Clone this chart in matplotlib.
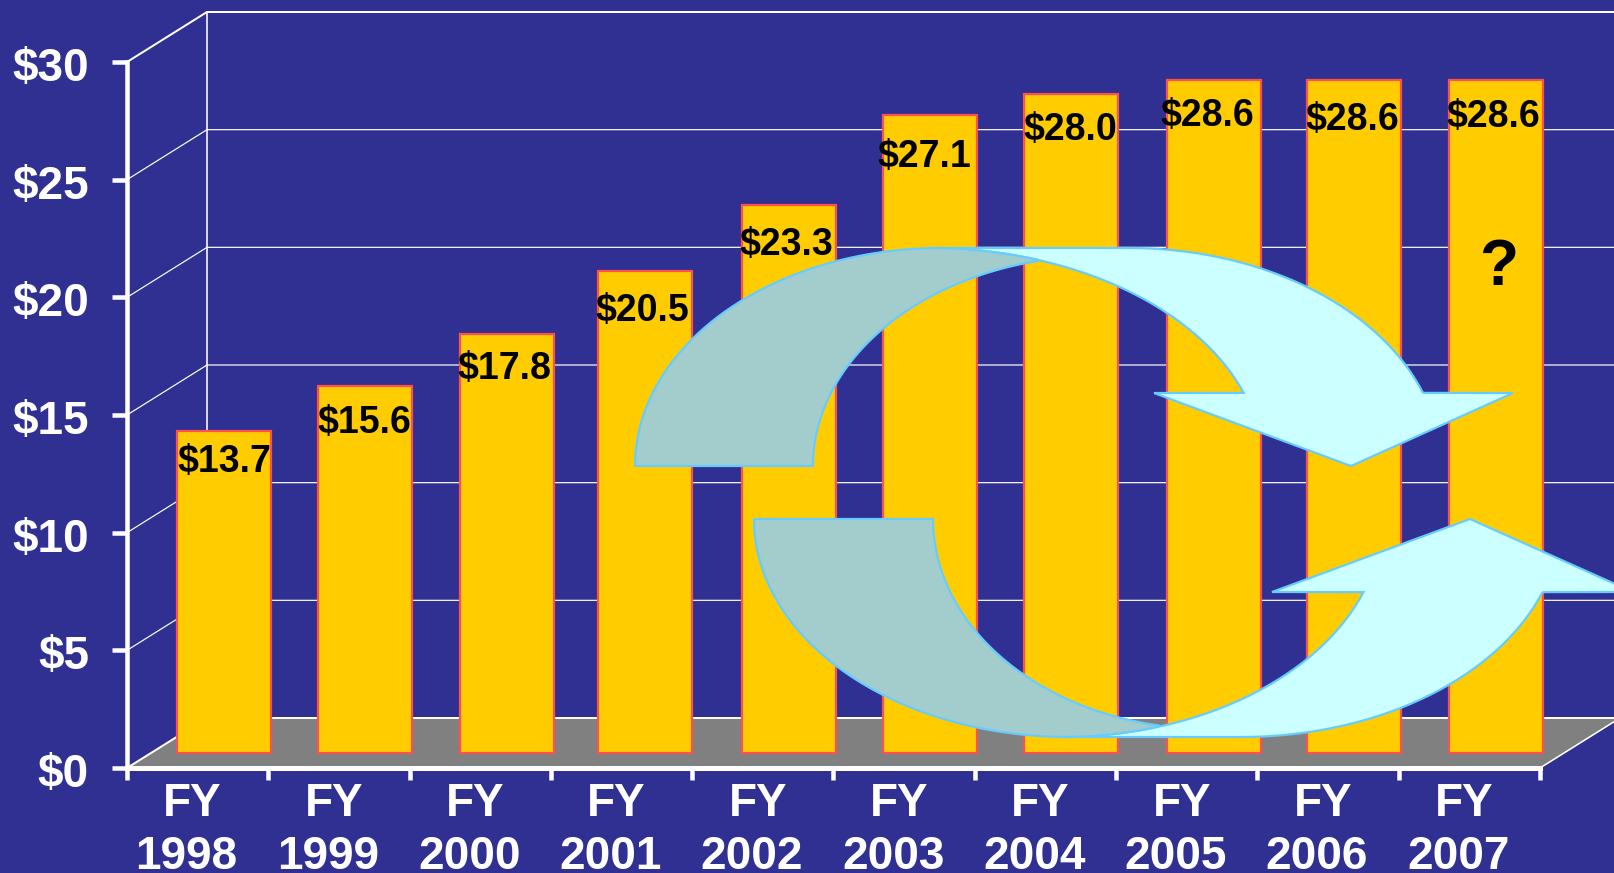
import numpy as np
import matplotlib
matplotlib.use("Agg")
import matplotlib.pyplot as plt
from matplotlib.patches import PathPatch
from matplotlib.path import Path
from matplotlib.transforms import Affine2D, ScaledTranslation

WIDTH = 1615
HEIGHT = 873
DPI = 100

YEARS = ["1998", "1999", "2000", "2001", "2002", "2003", "2004", "2005", "2006", "2007"]
FUNDING = [13.7, 15.6, 17.8, 20.5, 23.3, 27.1, 28.0, 28.6, 28.6, 28.6]
Y_TICKS = [0, 5, 10, 15, 20, 25, 30]

# hand placed labels, pixels from the bar top and from the bar centre
LABEL_DROP = [31, 37, 35, 40, 40, 42, 36, 36, 40, 37]
LABEL_NUDGE = [1, -1, -2, -5, -3, -6, -1, -5, -2, -2]
# the 2001 bar sits a little left of the regular spacing
BAR_NUDGE = [0, 0, 1, -3, 0, 0, 0, 1, 0, 1]

BACKGROUND = "#2F3091"
BAR_COLOR = "#FFCC00"
BAR_EDGE = "#FF5050"
FLOOR_COLOR = "#808080"
ARROW_DARK = "#A3CCCC"
ARROW_LIGHT = "#CCFFFF"
ARROW_EDGE = "#66CCFF"

# pixel sizes of the fake 3d box, front plane is the axes
PX_X = 141.3
PX_Y = 23.53
DEPTH_X = 80 / PX_X
DEPTH_Y = 50 / PX_Y
BAR_SHIFT_X = 26 / PX_X
BAR_SHIFT_Y = 15 / PX_Y
BAR_WIDTH = 94 / PX_X

plt.rcParams["font.family"] = ["Liberation Sans", "DejaVu Sans"]
plt.rcParams["font.weight"] = "bold"


def px(points):
    return points * 72 / DPI


def arc(cx, cy, rx, ry, start, end, up=True):
    t = np.radians(np.linspace(start, end, 60))
    sign = -1 if up else 1
    return np.column_stack([cx + rx * np.cos(t), cy + sign * ry * np.sin(t)])


def draw_shape(ax, parts, color, zorder):
    points = np.vstack(parts)
    points = np.vstack([points, points[:1]])
    to_screen = Affine2D().scale(1, -1).translate(0, HEIGHT)
    ax.add_patch(PathPatch(Path(points), facecolor=color, edgecolor=ARROW_EDGE,
                           lw=px(2.2), joinstyle="miter", transform=to_screen,
                           clip_on=False, zorder=zorder))


def draw_arrows(ax):
    # top arrow
    draw_shape(ax, [arc(1129, 466, 312, 218, 19.6, 90),
                    arc(929, 466, 334, 218, 90, 19.6),
                    [[1154, 393], [1351, 466], [1513, 393]]], ARROW_LIGHT, 5)
    draw_shape(ax, [arc(941, 466, 306, 218, 180, 90),
                    arc(929, 466, 334, 218, 88, 71),
                    arc(1100, 466, 287, 210, 102.6, 180)], ARROW_DARK, 5.1)
    # bottom arrow
    draw_shape(ax, [arc(1241, 519, 320, 218, 19.6, 90, up=False),
                    arc(1061, 519, 321, 218, 90, 19.6, up=False),
                    [[1272, 592], [1470, 519], [1633, 592]]], ARROW_LIGHT, 5)
    draw_shape(ax, [arc(1069, 519, 315, 218, 180, 90, up=False),
                    arc(1061, 519, 321, 218, 89, 72.6, up=False),
                    arc(1209, 519, 276, 210, 100.6, 180, up=False)], ARROW_DARK, 5.1)


def draw_box(ax):
    left, right = -0.5, len(YEARS) - 0.5
    ax.fill([left, right, right + DEPTH_X, left + DEPTH_X], [0, 0, DEPTH_Y, DEPTH_Y],
            color=FLOOR_COLOR, lw=0, zorder=1.5, clip_on=False)
    ax.plot([left + DEPTH_X, left + DEPTH_X], [DEPTH_Y, Y_TICKS[-1] + DEPTH_Y],
            color="white", lw=px(1.6), zorder=1, clip_on=False)
    ax.plot([right, right + DEPTH_X], [0, DEPTH_Y],
            color="white", lw=px(1.6), zorder=1.6, clip_on=False)
    for tick in Y_TICKS:
        width = 1.2
        if tick == 0 or tick == Y_TICKS[-1]:
            width = 2
        ax.plot([left, left + DEPTH_X, right + DEPTH_X],
                [tick, tick + DEPTH_Y, tick + DEPTH_Y],
                color="white", lw=px(width), zorder=1.6 if tick == 0 else 1, clip_on=False)


def draw_bars(ax):
    regular = np.arange(len(YEARS)) + BAR_SHIFT_X
    x_pos = regular + np.array(BAR_NUDGE) / PX_X
    ax.bar(x_pos, FUNDING, BAR_WIDTH, bottom=BAR_SHIFT_Y, color=BAR_COLOR,
           edgecolor=BAR_EDGE, lw=px(2.2), zorder=3, clip_on=False)
    for i, value in enumerate(FUNDING):
        ax.annotate("${:.1f}".format(value), (regular[i], value + BAR_SHIFT_Y),
                    xytext=(px(LABEL_NUDGE[i]), -px(LABEL_DROP[i])),
                    textcoords="offset points", ha="center", va="center",
                    fontsize=27, color="black", zorder=6)
    ax.annotate("?", (regular[-1], 21.24), xytext=(px(3), 0), textcoords="offset points",
                ha="center", va="center", fontsize=46, color="black", zorder=6)


def draw_axes(ax):
    ax.set_xlim(-0.5, len(YEARS) - 0.5)
    ax.set_ylim(0, Y_TICKS[-1])
    ax.patch.set_visible(False)
    for side in ["top", "right"]:
        ax.spines[side].set_visible(False)
    ax.spines["left"].set(color="white", lw=px(4.5), zorder=4)
    ax.spines["bottom"].set(color="white", lw=px(5), zorder=4)

    ax.set_yticks(Y_TICKS)
    ax.set_yticklabels(["${}".format(t) for t in Y_TICKS])
    ax.tick_params(axis="y", colors="white", length=px(15), width=px(4.5),
                   pad=px(23), labelsize=33)
    shift = ScaledTranslation(0, -px(2) / 72, ax.figure.dpi_scale_trans)
    for label in ax.get_yticklabels():
        label.set_transform(label.get_transform() + shift)

    ax.set_xticks(np.arange(len(YEARS) + 1) - 0.5)
    ax.set_xticklabels([])
    ax.tick_params(axis="x", colors="white", length=px(12), width=px(4.5))

    for i, year in enumerate(YEARS):
        ax.annotate("FY", (i, 0), xytext=(-px(5), -px(36)), textcoords="offset points",
                    ha="center", va="center", fontsize=33, color="white",
                    annotation_clip=False)
        ax.annotate(year, (i, 0), xytext=(-px(11), -px(89)), textcoords="offset points",
                    ha="center", va="center", fontsize=33, color="white",
                    annotation_clip=False)


def main():
    fig = plt.figure(figsize=(WIDTH / DPI, HEIGHT / DPI), dpi=DPI, facecolor=BACKGROUND)
    ax = fig.add_axes([127 / WIDTH, 105 / HEIGHT, 1413 / WIDTH, 706 / HEIGHT])
    draw_axes(ax)
    draw_box(ax)
    draw_bars(ax)
    draw_arrows(ax)
    fig.savefig("out.png", dpi=DPI)


if __name__ == "__main__":
    main()
